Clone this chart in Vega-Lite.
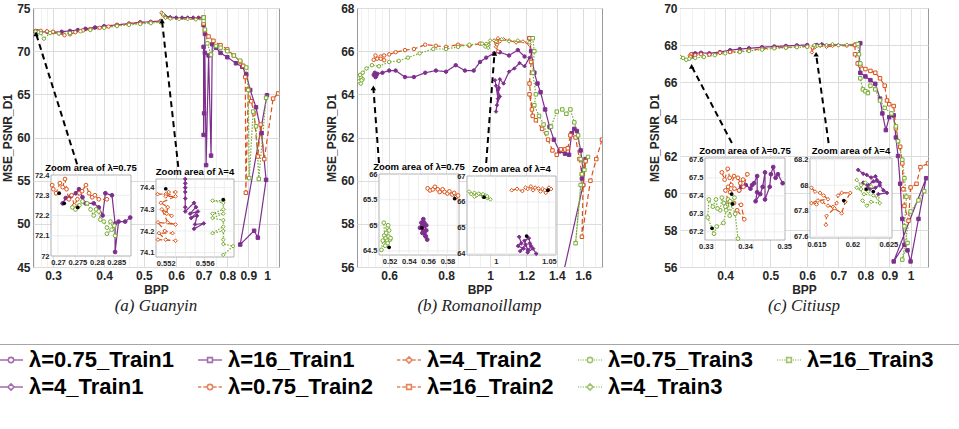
{
"padding": {"left": -6, "top": 1, "right": 5, "bottom": 5},
"spacing": 78,
"bounds": "flush",
"datasets": {
"am": [
{"s":"0.75_T1","x":0.55,"y":73.5},{"s":"0.75_T1","x":0.52,"y":73.4},{"s":"0.75_T1","x":0.49,"y":73.35},{"s":"0.75_T1","x":0.46,"y":73.2},{"s":"0.75_T1","x":0.43,"y":73.05},{"s":"0.75_T1","x":0.4,"y":72.9},{"s":"0.75_T1","x":0.38,"y":72.75},{"s":"0.75_T1","x":0.36,"y":72.6},{"s":"0.75_T1","x":0.345,"y":72.45},{"s":"0.75_T1","x":0.33,"y":72.35},{"s":"0.75_T1","x":0.315,"y":72.25},{"s":"0.75_T1","x":0.3,"y":72.2},{"s":"0.75_T1","x":0.29,"y":72.25},{"s":"0.75_T1","x":0.28,"y":72.2},{"s":"0.75_T1","x":0.275,"y":72.3},{"s":"0.75_T1","x":0.271,"y":72.28},
{"s":"0.75_T2","x":0.55,"y":73.45},{"s":"0.75_T2","x":0.52,"y":73.35},{"s":"0.75_T2","x":0.49,"y":73.25},{"s":"0.75_T2","x":0.46,"y":73.15},{"s":"0.75_T2","x":0.43,"y":73.0},{"s":"0.75_T2","x":0.41,"y":72.85},{"s":"0.75_T2","x":0.39,"y":72.7},{"s":"0.75_T2","x":0.37,"y":72.55},{"s":"0.75_T2","x":0.355,"y":72.4},{"s":"0.75_T2","x":0.34,"y":72.2},{"s":"0.75_T2","x":0.33,"y":71.95},{"s":"0.75_T2","x":0.32,"y":71.85},{"s":"0.75_T2","x":0.31,"y":72.05},{"s":"0.75_T2","x":0.3,"y":72.25},{"s":"0.75_T2","x":0.29,"y":72.3},{"s":"0.75_T2","x":0.28,"y":72.35},{"s":"0.75_T2","x":0.272,"y":72.35},
{"s":"0.75_T3","x":0.55,"y":73.35},{"s":"0.75_T3","x":0.52,"y":73.25},{"s":"0.75_T3","x":0.49,"y":73.15},{"s":"0.75_T3","x":0.46,"y":73.05},{"s":"0.75_T3","x":0.43,"y":72.9},{"s":"0.75_T3","x":0.4,"y":72.7},{"s":"0.75_T3","x":0.37,"y":72.45},{"s":"0.75_T3","x":0.35,"y":72.3},{"s":"0.75_T3","x":0.33,"y":72.1},{"s":"0.75_T3","x":0.31,"y":72.05},{"s":"0.75_T3","x":0.295,"y":72.1},{"s":"0.75_T3","x":0.285,"y":71.45},{"s":"0.75_T3","x":0.28,"y":72.1},{"s":"0.75_T3","x":0.276,"y":72.2},{"s":"0.75_T3","x":0.272,"y":72.25},
{"s":"4_T1","x":0.7,"y":73.95},{"s":"4_T1","x":0.68,"y":73.9},{"s":"4_T1","x":0.66,"y":73.9},{"s":"4_T1","x":0.64,"y":73.9},{"s":"4_T1","x":0.62,"y":73.9},{"s":"4_T1","x":0.6,"y":73.9},{"s":"4_T1","x":0.58,"y":73.95},{"s":"4_T1","x":0.565,"y":74.05},{"s":"4_T1","x":0.557,"y":74.3},{"s":"4_T1","x":0.555,"y":74.4},
{"s":"4_T2","x":0.7,"y":73.75},{"s":"4_T2","x":0.67,"y":73.75},{"s":"4_T2","x":0.64,"y":73.75},{"s":"4_T2","x":0.61,"y":73.75},{"s":"4_T2","x":0.58,"y":73.8},{"s":"4_T2","x":0.565,"y":73.9},{"s":"4_T2","x":0.556,"y":74.2},{"s":"4_T2","x":0.552,"y":74.45},
{"s":"4_T3","x":0.7,"y":73.65},{"s":"4_T3","x":0.67,"y":73.65},{"s":"4_T3","x":0.64,"y":73.7},{"s":"4_T3","x":0.61,"y":73.7},{"s":"4_T3","x":0.58,"y":73.75},{"s":"4_T3","x":0.565,"y":73.85},{"s":"4_T3","x":0.558,"y":74.15},{"s":"4_T3","x":0.558,"y":74.3},
{"s":"16_T1","x":1.0,"y":64.9},{"s":"16_T1","x":0.86,"y":47.6},{"s":"16_T1","x":0.93,"y":49.2},{"s":"16_T1","x":0.95,"y":48.4},{"s":"16_T1","x":0.995,"y":55.1},{"s":"16_T1","x":0.97,"y":60.5},{"s":"16_T1","x":0.94,"y":63.5},{"s":"16_T1","x":0.91,"y":65.5},{"s":"16_T1","x":0.89,"y":67.3},{"s":"16_T1","x":0.87,"y":68.2},{"s":"16_T1","x":0.84,"y":68.6},{"s":"16_T1","x":0.8,"y":69.3},{"s":"16_T1","x":0.77,"y":69.8},{"s":"16_T1","x":0.75,"y":70.4},{"s":"16_T1","x":0.735,"y":70.8},{"s":"16_T1","x":0.73,"y":57.9},{"s":"16_T1","x":0.72,"y":69.5},{"s":"16_T1","x":0.71,"y":56.8},{"s":"16_T1","x":0.705,"y":69.8},{"s":"16_T1","x":0.7,"y":60.3},{"s":"16_T1","x":0.7,"y":70.5},{"s":"16_T1","x":0.702,"y":62.8},{"s":"16_T1","x":0.705,"y":72.0},{"s":"16_T1","x":0.7,"y":73.0},{"s":"16_T1","x":0.7,"y":73.9},
{"s":"16_T2","x":1.065,"y":65.1},{"s":"16_T2","x":1.035,"y":64.5},{"s":"16_T2","x":0.985,"y":57.5},{"s":"16_T2","x":0.965,"y":61.5},{"s":"16_T2","x":0.95,"y":57.8},{"s":"16_T2","x":0.93,"y":62.8},{"s":"16_T2","x":0.915,"y":64.2},{"s":"16_T2","x":0.9,"y":65.6},{"s":"16_T2","x":0.888,"y":53.6},{"s":"16_T2","x":0.885,"y":67.0},{"s":"16_T2","x":0.875,"y":68.3},{"s":"16_T2","x":0.86,"y":68.8},{"s":"16_T2","x":0.83,"y":69.5},{"s":"16_T2","x":0.8,"y":70.2},{"s":"16_T2","x":0.77,"y":70.7},{"s":"16_T2","x":0.74,"y":71.2},{"s":"16_T2","x":0.72,"y":71.7},{"s":"16_T2","x":0.705,"y":72.4},{"s":"16_T2","x":0.7,"y":73.2},{"s":"16_T2","x":0.7,"y":73.9},
{"s":"16_T3","x":0.995,"y":64.6},{"s":"16_T3","x":0.955,"y":55.2},{"s":"16_T3","x":0.94,"y":61.3},{"s":"16_T3","x":0.925,"y":63.0},{"s":"16_T3","x":0.905,"y":55.3},{"s":"16_T3","x":0.9,"y":65.5},{"s":"16_T3","x":0.89,"y":68.1},{"s":"16_T3","x":0.86,"y":68.9},{"s":"16_T3","x":0.83,"y":69.5},{"s":"16_T3","x":0.8,"y":70.0},{"s":"16_T3","x":0.77,"y":70.4},{"s":"16_T3","x":0.75,"y":70.6},{"s":"16_T3","x":0.73,"y":69.6},{"s":"16_T3","x":0.715,"y":70.9},{"s":"16_T3","x":0.705,"y":72.5},{"s":"16_T3","x":0.7,"y":73.5},{"s":"16_T3","x":0.7,"y":73.9}
],
"ai1": [
{"s":"0.75_T1","x":0.2712,"y":72.26},{"s":"0.75_T1","x":0.272,"y":72.286},{"s":"0.75_T1","x":0.2733,"y":72.295},{"s":"0.75_T1","x":0.2746,"y":72.31},{"s":"0.75_T1","x":0.2754,"y":72.33},{"s":"0.75_T1","x":0.2763,"y":72.29},{"s":"0.75_T1","x":0.2771,"y":72.26},{"s":"0.75_T1","x":0.2792,"y":72.26},{"s":"0.75_T1","x":0.2805,"y":72.24},{"s":"0.75_T1","x":0.2815,"y":72.2},{"s":"0.75_T1","x":0.2822,"y":72.31},{"s":"0.75_T1","x":0.2839,"y":72.3},{"s":"0.75_T1","x":0.2847,"y":72.16},{"s":"0.75_T1","x":0.2847,"y":72.02},{"s":"0.75_T1","x":0.2856,"y":72.17},{"s":"0.75_T1","x":0.2873,"y":72.17},{"s":"0.75_T1","x":0.2886,"y":72.19},
{"s":"0.75_T2","x":0.2685,"y":72.35},{"s":"0.75_T2","x":0.2688,"y":72.33},{"s":"0.75_T2","x":0.2695,"y":72.31},{"s":"0.75_T2","x":0.2705,"y":72.36},{"s":"0.75_T2","x":0.2712,"y":72.34},{"s":"0.75_T2","x":0.2718,"y":72.38},{"s":"0.75_T2","x":0.2722,"y":72.33},{"s":"0.75_T2","x":0.2728,"y":72.28},{"s":"0.75_T2","x":0.2735,"y":72.3},{"s":"0.75_T2","x":0.2742,"y":72.25},{"s":"0.75_T2","x":0.275,"y":72.28},{"s":"0.75_T2","x":0.2755,"y":72.31},{"s":"0.75_T2","x":0.2762,"y":72.32},{"s":"0.75_T2","x":0.2772,"y":72.35},{"s":"0.75_T2","x":0.278,"y":72.31},{"s":"0.75_T2","x":0.2788,"y":72.29},{"s":"0.75_T2","x":0.2795,"y":72.3},{"s":"0.75_T2","x":0.2805,"y":72.28},{"s":"0.75_T2","x":0.2826,"y":72.28},
{"s":"0.75_T3","x":0.2737,"y":72.24},{"s":"0.75_T3","x":0.2745,"y":72.23},{"s":"0.75_T3","x":0.2755,"y":72.25},{"s":"0.75_T3","x":0.2763,"y":72.27},{"s":"0.75_T3","x":0.2775,"y":72.26},{"s":"0.75_T3","x":0.2784,"y":72.23},{"s":"0.75_T3","x":0.2792,"y":72.2},{"s":"0.75_T3","x":0.2798,"y":72.23},{"s":"0.75_T3","x":0.2805,"y":72.22},{"s":"0.75_T3","x":0.2809,"y":72.18},{"s":"0.75_T3","x":0.2818,"y":72.17},{"s":"0.75_T3","x":0.2826,"y":72.14},{"s":"0.75_T3","x":0.2835,"y":72.17},{"s":"0.75_T3","x":0.2847,"y":72.1},{"s":"0.75_T3","x":0.2845,"y":72.15},{"s":"0.75_T3","x":0.2838,"y":72.13},{"s":"0.75_T3","x":0.2826,"y":72.11},
{"s":"best","x":0.2703,"y":72.31},{"s":"best","x":0.2716,"y":72.26},{"s":"best","x":0.2751,"y":72.24}
],
"ai2": [
{"s":"4_T1","x":0.554,"y":74.44},{"s":"4_T1","x":0.554,"y":74.42},{"s":"4_T1","x":0.554,"y":74.4},{"s":"4_T1","x":0.554,"y":74.38},{"s":"4_T1","x":0.554,"y":74.35},{"s":"4_T1","x":0.554,"y":74.31},{"s":"4_T1","x":0.554,"y":74.29},{"s":"4_T1","x":0.5549,"y":74.33},{"s":"4_T1","x":0.5551,"y":74.31},{"s":"4_T1","x":0.5545,"y":74.28},{"s":"4_T1","x":0.5553,"y":74.29},{"s":"4_T1","x":0.5546,"y":74.26},{"s":"4_T1","x":0.5552,"y":74.27},{"s":"4_T1","x":0.555,"y":74.23},{"s":"4_T1","x":0.5559,"y":74.235},{"s":"4_T1","x":0.5549,"y":74.21},
{"s":"4_T2","x":0.55116,"y":74.37},{"s":"4_T2","x":0.552,"y":74.37},{"s":"4_T2","x":0.5523,"y":74.38},{"s":"4_T2","x":0.553,"y":74.38},{"s":"4_T2","x":0.552,"y":74.36},{"s":"4_T2","x":0.553,"y":74.36},{"s":"4_T2","x":0.5515,"y":74.33},{"s":"4_T2","x":0.5522,"y":74.31},{"s":"4_T2","x":0.5521,"y":74.28},{"s":"4_T2","x":0.5526,"y":74.27},{"s":"4_T2","x":0.5516,"y":74.3},{"s":"4_T2","x":0.5522,"y":74.24},{"s":"4_T2","x":0.553,"y":74.23},{"s":"4_T2","x":0.5512,"y":74.24},{"s":"4_T2","x":0.5519,"y":74.2},{"s":"4_T2","x":0.5527,"y":74.19},{"s":"4_T2","x":0.5513,"y":74.19},{"s":"4_T2","x":0.552,"y":74.16},{"s":"4_T2","x":0.553,"y":74.155},{"s":"4_T2","x":0.5512,"y":74.16},
{"s":"4_T3","x":0.5579,"y":74.34},{"s":"4_T3","x":0.5568,"y":74.34},{"s":"4_T3","x":0.5579,"y":74.33},{"s":"4_T3","x":0.5579,"y":74.3},{"s":"4_T3","x":0.5568,"y":74.28},{"s":"4_T3","x":0.5579,"y":74.28},{"s":"4_T3","x":0.5568,"y":74.26},{"s":"4_T3","x":0.5579,"y":74.25},{"s":"4_T3","x":0.5579,"y":74.22},{"s":"4_T3","x":0.5568,"y":74.19},{"s":"4_T3","x":0.5579,"y":74.2},{"s":"4_T3","x":0.5579,"y":74.16},{"s":"4_T3","x":0.5579,"y":74.14},{"s":"4_T3","x":0.5589,"y":74.13},{"s":"4_T3","x":0.5579,"y":74.09},
{"s":"best","x":0.552,"y":74.395},{"s":"best","x":0.5579,"y":74.345}
],
"bm": [
{"s":"0.75_T1","x":1.19,"y":65.75},{"s":"0.75_T1","x":1.15,"y":66.05},{"s":"0.75_T1","x":1.1,"y":65.8},{"s":"0.75_T1","x":1.05,"y":65.95},{"s":"0.75_T1","x":1.02,"y":65.9},{"s":"0.75_T1","x":0.98,"y":65.7},{"s":"0.75_T1","x":0.95,"y":65.5},{"s":"0.75_T1","x":0.92,"y":65.1},{"s":"0.75_T1","x":0.88,"y":65.1},{"s":"0.75_T1","x":0.84,"y":65.35},{"s":"0.75_T1","x":0.8,"y":65.05},{"s":"0.75_T1","x":0.76,"y":65.1},{"s":"0.75_T1","x":0.72,"y":65.0},{"s":"0.75_T1","x":0.68,"y":64.8},{"s":"0.75_T1","x":0.65,"y":64.8},{"s":"0.75_T1","x":0.62,"y":65.1},{"s":"0.75_T1","x":0.6,"y":65.1},{"s":"0.75_T1","x":0.58,"y":65.0},{"s":"0.75_T1","x":0.565,"y":64.95},{"s":"0.75_T1","x":0.56,"y":64.8},{"s":"0.75_T1","x":0.558,"y":65.0},{"s":"0.75_T1","x":0.562,"y":64.85},{"s":"0.75_T1","x":0.555,"y":64.9},
{"s":"0.75_T2","x":0.99,"y":66.3},{"s":"0.75_T2","x":0.95,"y":66.35},{"s":"0.75_T2","x":0.9,"y":66.25},{"s":"0.75_T2","x":0.85,"y":66.3},{"s":"0.75_T2","x":0.8,"y":66.2},{"s":"0.75_T2","x":0.76,"y":66.25},{"s":"0.75_T2","x":0.72,"y":66.3},{"s":"0.75_T2","x":0.68,"y":66.1},{"s":"0.75_T2","x":0.65,"y":66.05},{"s":"0.75_T2","x":0.62,"y":65.95},{"s":"0.75_T2","x":0.6,"y":65.85},{"s":"0.75_T2","x":0.585,"y":65.8},{"s":"0.75_T2","x":0.575,"y":65.75},{"s":"0.75_T2","x":0.565,"y":65.65},{"s":"0.75_T2","x":0.56,"y":65.8},{"s":"0.75_T2","x":0.555,"y":65.6},{"s":"0.75_T2","x":0.575,"y":65.65},{"s":"0.75_T2","x":0.585,"y":65.58},
{"s":"0.75_T3","x":0.96,"y":66.35},{"s":"0.75_T3","x":0.9,"y":66.3},{"s":"0.75_T3","x":0.85,"y":66.2},{"s":"0.75_T3","x":0.8,"y":66.1},{"s":"0.75_T3","x":0.75,"y":66.1},{"s":"0.75_T3","x":0.7,"y":65.9},{"s":"0.75_T3","x":0.66,"y":65.7},{"s":"0.75_T3","x":0.63,"y":65.55},{"s":"0.75_T3","x":0.6,"y":65.5},{"s":"0.75_T3","x":0.57,"y":65.3},{"s":"0.75_T3","x":0.55,"y":65.35},{"s":"0.75_T3","x":0.535,"y":65.2},{"s":"0.75_T3","x":0.525,"y":65.0},{"s":"0.75_T3","x":0.52,"y":64.8},{"s":"0.75_T3","x":0.515,"y":64.6},{"s":"0.75_T3","x":0.52,"y":64.5},{"s":"0.75_T3","x":0.525,"y":64.7},{"s":"0.75_T3","x":0.518,"y":64.9},{"s":"0.75_T3","x":0.522,"y":64.65},
{"s":"4_T1","x":1.22,"y":65.7},{"s":"4_T1","x":1.19,"y":65.3},{"s":"4_T1","x":1.16,"y":65.45},{"s":"4_T1","x":1.13,"y":65.2},{"s":"4_T1","x":1.1,"y":65.05},{"s":"4_T1","x":1.07,"y":64.5},{"s":"4_T1","x":1.05,"y":64.7},{"s":"4_T1","x":1.04,"y":64.2},{"s":"4_T1","x":1.05,"y":63.9},{"s":"4_T1","x":1.035,"y":63.5},{"s":"4_T1","x":1.045,"y":64.3},{"s":"4_T1","x":1.03,"y":63.2},{"s":"4_T1","x":1.04,"y":63.8},{"s":"4_T1","x":1.03,"y":64.4},{"s":"4_T1","x":1.025,"y":64.65},
{"s":"4_T2","x":1.22,"y":66.3},{"s":"4_T2","x":1.18,"y":66.45},{"s":"4_T2","x":1.14,"y":66.4},{"s":"4_T2","x":1.1,"y":66.5},{"s":"4_T2","x":1.07,"y":66.55},{"s":"4_T2","x":1.05,"y":66.5},{"s":"4_T2","x":1.04,"y":66.6},{"s":"4_T2","x":1.03,"y":66.45},{"s":"4_T2","x":1.02,"y":66.5},{"s":"4_T2","x":1.03,"y":66.2},{"s":"4_T2","x":1.04,"y":66.0},{"s":"4_T2","x":1.035,"y":66.3},{"s":"4_T2","x":1.05,"y":66.45},
{"s":"4_T3","x":1.22,"y":66.4},{"s":"4_T3","x":1.15,"y":66.5},{"s":"4_T3","x":1.1,"y":66.45},{"s":"4_T3","x":1.06,"y":66.55},{"s":"4_T3","x":1.03,"y":66.45},{"s":"4_T3","x":1.0,"y":66.5},{"s":"4_T3","x":0.99,"y":66.3},{"s":"4_T3","x":0.985,"y":66.25},{"s":"4_T3","x":0.98,"y":66.35},{"s":"4_T3","x":0.975,"y":66.2},{"s":"4_T3","x":0.99,"y":66.15},
{"s":"16_T1","x":1.22,"y":66.6},{"s":"16_T1","x":1.23,"y":66.0},{"s":"16_T1","x":1.25,"y":65.0},{"s":"16_T1","x":1.27,"y":64.5},{"s":"16_T1","x":1.29,"y":64.1},{"s":"16_T1","x":1.32,"y":63.3},{"s":"16_T1","x":1.35,"y":62.5},{"s":"16_T1","x":1.38,"y":61.9},{"s":"16_T1","x":1.42,"y":61.36},{"s":"16_T1","x":1.46,"y":61.25},{"s":"16_T1","x":1.49,"y":61.2},{"s":"16_T1","x":1.51,"y":62.2},{"s":"16_T1","x":1.53,"y":62.4},{"s":"16_T1","x":1.55,"y":62.3},{"s":"16_T1","x":1.58,"y":61.4},{"s":"16_T1","x":1.6,"y":60.5},{"s":"16_T1","x":1.59,"y":60.1},{"s":"16_T1","x":1.62,"y":61.0},{"s":"16_T1","x":1.6,"y":59.8},{"s":"16_T1","x":1.44,"y":55.5},
{"s":"16_T2","x":1.22,"y":66.6},{"s":"16_T2","x":1.23,"y":65.5},{"s":"16_T2","x":1.22,"y":64.5},{"s":"16_T2","x":1.235,"y":63.3},{"s":"16_T2","x":1.22,"y":64.0},{"s":"16_T2","x":1.24,"y":63.0},{"s":"16_T2","x":1.26,"y":62.8},{"s":"16_T2","x":1.3,"y":62.4},{"s":"16_T2","x":1.34,"y":61.9},{"s":"16_T2","x":1.37,"y":61.4},{"s":"16_T2","x":1.4,"y":61.2},{"s":"16_T2","x":1.43,"y":61.45},{"s":"16_T2","x":1.46,"y":61.45},{"s":"16_T2","x":1.48,"y":61.5},{"s":"16_T2","x":1.5,"y":62.1},{"s":"16_T2","x":1.54,"y":62.0},{"s":"16_T2","x":1.57,"y":61.0},{"s":"16_T2","x":1.59,"y":60.3},{"s":"16_T2","x":1.62,"y":60.9},{"s":"16_T2","x":1.6,"y":59.8},{"s":"16_T2","x":1.59,"y":57.4},{"s":"16_T2","x":1.66,"y":60.0},{"s":"16_T2","x":1.71,"y":61.0},{"s":"16_T2","x":1.76,"y":61.9},
{"s":"16_T3","x":1.24,"y":66.6},{"s":"16_T3","x":1.25,"y":66.0},{"s":"16_T3","x":1.24,"y":65.0},{"s":"16_T3","x":1.26,"y":64.0},{"s":"16_T3","x":1.25,"y":63.5},{"s":"16_T3","x":1.28,"y":63.0},{"s":"16_T3","x":1.31,"y":62.6},{"s":"16_T3","x":1.33,"y":62.2},{"s":"16_T3","x":1.36,"y":62.5},{"s":"16_T3","x":1.4,"y":63.2},{"s":"16_T3","x":1.44,"y":63.3},{"s":"16_T3","x":1.47,"y":63.1},{"s":"16_T3","x":1.5,"y":63.3},{"s":"16_T3","x":1.53,"y":62.7},{"s":"16_T3","x":1.56,"y":62.1},{"s":"16_T3","x":1.58,"y":61.0},{"s":"16_T3","x":1.61,"y":60.5},{"s":"16_T3","x":1.58,"y":59.8},{"s":"16_T3","x":1.54,"y":57.1},{"s":"16_T3","x":1.59,"y":60.3},{"s":"16_T3","x":1.64,"y":61.1}
],
"bi1": [
{"s":"0.75_T1","x":0.5515,"y":64.95},{"s":"0.75_T1","x":0.553,"y":65.05},{"s":"0.75_T1","x":0.555,"y":65.12},{"s":"0.75_T1","x":0.5545,"y":64.98},{"s":"0.75_T1","x":0.5565,"y":65.0},{"s":"0.75_T1","x":0.558,"y":64.9},{"s":"0.75_T1","x":0.556,"y":64.85},{"s":"0.75_T1","x":0.5575,"y":64.78},{"s":"0.75_T1","x":0.559,"y":64.72},{"s":"0.75_T1","x":0.557,"y":64.8},{"s":"0.75_T1","x":0.555,"y":64.9},{"s":"0.75_T1","x":0.554,"y":64.85},{"s":"0.75_T1","x":0.556,"y":65.05},{"s":"0.75_T1","x":0.558,"y":65.0},
{"s":"0.75_T2","x":0.5595,"y":65.72},{"s":"0.75_T2","x":0.562,"y":65.68},{"s":"0.75_T2","x":0.565,"y":65.7},{"s":"0.75_T2","x":0.567,"y":65.75},{"s":"0.75_T2","x":0.57,"y":65.7},{"s":"0.75_T2","x":0.572,"y":65.65},{"s":"0.75_T2","x":0.575,"y":65.7},{"s":"0.75_T2","x":0.577,"y":65.65},{"s":"0.75_T2","x":0.58,"y":65.62},{"s":"0.75_T2","x":0.582,"y":65.66},{"s":"0.75_T2","x":0.585,"y":65.6},{"s":"0.75_T2","x":0.587,"y":65.63},{"s":"0.75_T2","x":0.589,"y":65.55},{"s":"0.75_T2","x":0.591,"y":65.58},
{"s":"0.75_T3","x":0.5115,"y":64.52},{"s":"0.75_T3","x":0.513,"y":64.7},{"s":"0.75_T3","x":0.5145,"y":64.8},{"s":"0.75_T3","x":0.516,"y":64.75},{"s":"0.75_T3","x":0.5175,"y":64.7},{"s":"0.75_T3","x":0.519,"y":64.78},{"s":"0.75_T3","x":0.5205,"y":64.72},{"s":"0.75_T3","x":0.518,"y":64.65},{"s":"0.75_T3","x":0.5165,"y":64.85},{"s":"0.75_T3","x":0.518,"y":64.95},{"s":"0.75_T3","x":0.5195,"y":64.9},{"s":"0.75_T3","x":0.5185,"y":65.0},{"s":"0.75_T3","x":0.514,"y":65.05},{"s":"0.75_T3","x":0.5155,"y":64.6},{"s":"0.75_T3","x":0.521,"y":64.75},
{"s":"best","x":0.5195,"y":64.57},{"s":"best","x":0.5535,"y":64.95},{"s":"best","x":0.5875,"y":65.52}
],
"bi2": [
{"s":"4_T1","x":1.022,"y":64.65},{"s":"4_T1","x":1.024,"y":64.4},{"s":"4_T1","x":1.021,"y":64.3},{"s":"4_T1","x":1.026,"y":64.2},{"s":"4_T1","x":1.023,"y":64.1},{"s":"4_T1","x":1.028,"y":64.35},{"s":"4_T1","x":1.03,"y":64.15},{"s":"4_T1","x":1.027,"y":64.5},{"s":"4_T1","x":1.031,"y":64.6},{"s":"4_T1","x":1.033,"y":64.3},{"s":"4_T1","x":1.03,"y":64.05},{"s":"4_T1","x":1.035,"y":64.2},{"s":"4_T1","x":1.038,"y":64.0},{"s":"4_T1","x":1.032,"y":64.4},
{"s":"4_T2","x":1.015,"y":66.45},{"s":"4_T2","x":1.02,"y":66.5},{"s":"4_T2","x":1.025,"y":66.42},{"s":"4_T2","x":1.028,"y":66.55},{"s":"4_T2","x":1.03,"y":66.5},{"s":"4_T2","x":1.033,"y":66.6},{"s":"4_T2","x":1.035,"y":66.45},{"s":"4_T2","x":1.037,"y":66.55},{"s":"4_T2","x":1.04,"y":66.52},{"s":"4_T2","x":1.042,"y":66.4},{"s":"4_T2","x":1.044,"y":66.5},{"s":"4_T2","x":1.046,"y":66.45},{"s":"4_T2","x":1.05,"y":66.55},{"s":"4_T2","x":1.047,"y":66.35},{"s":"4_T2","x":1.052,"y":66.5},
{"s":"4_T3","x":0.975,"y":66.4},{"s":"4_T3","x":0.977,"y":66.3},{"s":"4_T3","x":0.98,"y":66.35},{"s":"4_T3","x":0.982,"y":66.25},{"s":"4_T3","x":0.985,"y":66.3},{"s":"4_T3","x":0.988,"y":66.2},{"s":"4_T3","x":0.99,"y":66.25},{"s":"4_T3","x":0.992,"y":66.15},{"s":"4_T3","x":0.995,"y":66.1},{"s":"4_T3","x":0.988,"y":66.3},{"s":"4_T3","x":0.98,"y":66.2},{"s":"4_T3","x":0.984,"y":66.32},{"s":"4_T3","x":0.992,"y":66.22},
{"s":"best","x":0.989,"y":66.18},{"s":"best","x":1.049,"y":66.45},{"s":"best","x":1.029,"y":64.68}
],
"cm": [
{"s":"0.75_T1","x":0.6,"y":68.0},{"s":"0.75_T1","x":0.57,"y":67.98},{"s":"0.75_T1","x":0.54,"y":67.95},{"s":"0.75_T1","x":0.51,"y":67.92},{"s":"0.75_T1","x":0.48,"y":67.88},{"s":"0.75_T1","x":0.45,"y":67.82},{"s":"0.75_T1","x":0.43,"y":67.78},{"s":"0.75_T1","x":0.41,"y":67.72},{"s":"0.75_T1","x":0.39,"y":67.62},{"s":"0.75_T1","x":0.37,"y":67.55},{"s":"0.75_T1","x":0.355,"y":67.58},{"s":"0.75_T1","x":0.345,"y":67.55},{"s":"0.75_T1","x":0.34,"y":67.5},{"s":"0.75_T1","x":0.345,"y":67.45},{"s":"0.75_T1","x":0.338,"y":67.42},{"s":"0.75_T1","x":0.342,"y":67.38},
{"s":"0.75_T2","x":0.6,"y":67.92},{"s":"0.75_T2","x":0.57,"y":67.9},{"s":"0.75_T2","x":0.54,"y":67.87},{"s":"0.75_T2","x":0.51,"y":67.85},{"s":"0.75_T2","x":0.48,"y":67.8},{"s":"0.75_T2","x":0.45,"y":67.72},{"s":"0.75_T2","x":0.43,"y":67.65},{"s":"0.75_T2","x":0.41,"y":67.62},{"s":"0.75_T2","x":0.39,"y":67.58},{"s":"0.75_T2","x":0.37,"y":67.48},{"s":"0.75_T2","x":0.355,"y":67.5},{"s":"0.75_T2","x":0.345,"y":67.45},{"s":"0.75_T2","x":0.338,"y":67.5},{"s":"0.75_T2","x":0.336,"y":67.42},{"s":"0.75_T2","x":0.337,"y":67.35},
{"s":"0.75_T3","x":0.6,"y":67.9},{"s":"0.75_T3","x":0.57,"y":67.88},{"s":"0.75_T3","x":0.54,"y":67.85},{"s":"0.75_T3","x":0.51,"y":67.82},{"s":"0.75_T3","x":0.48,"y":67.75},{"s":"0.75_T3","x":0.45,"y":67.68},{"s":"0.75_T3","x":0.43,"y":67.62},{"s":"0.75_T3","x":0.4,"y":67.55},{"s":"0.75_T3","x":0.38,"y":67.45},{"s":"0.75_T3","x":0.36,"y":67.35},{"s":"0.75_T3","x":0.345,"y":67.3},{"s":"0.75_T3","x":0.335,"y":67.25},{"s":"0.75_T3","x":0.33,"y":67.2},{"s":"0.75_T3","x":0.325,"y":67.3},{"s":"0.75_T3","x":0.32,"y":67.35},
{"s":"4_T1","x":0.76,"y":68.02},{"s":"4_T1","x":0.73,"y":68.0},{"s":"4_T1","x":0.7,"y":68.0},{"s":"4_T1","x":0.68,"y":68.02},{"s":"4_T1","x":0.66,"y":68.0},{"s":"4_T1","x":0.645,"y":68.05},{"s":"4_T1","x":0.63,"y":68.02},{"s":"4_T1","x":0.624,"y":68.0},{"s":"4_T1","x":0.622,"y":67.95},
{"s":"4_T2","x":0.76,"y":67.98},{"s":"4_T2","x":0.73,"y":67.95},{"s":"4_T2","x":0.7,"y":67.98},{"s":"4_T2","x":0.68,"y":67.95},{"s":"4_T2","x":0.66,"y":67.9},{"s":"4_T2","x":0.64,"y":67.95},{"s":"4_T2","x":0.625,"y":67.9},{"s":"4_T2","x":0.62,"y":67.95},{"s":"4_T2","x":0.617,"y":67.8},{"s":"4_T2","x":0.614,"y":67.6},{"s":"4_T2","x":0.616,"y":67.85},
{"s":"4_T3","x":0.76,"y":68.05},{"s":"4_T3","x":0.73,"y":68.02},{"s":"4_T3","x":0.7,"y":67.98},{"s":"4_T3","x":0.68,"y":68.05},{"s":"4_T3","x":0.66,"y":68.0},{"s":"4_T3","x":0.64,"y":67.98},{"s":"4_T3","x":0.63,"y":67.95},{"s":"4_T3","x":0.623,"y":67.95},{"s":"4_T3","x":0.621,"y":68.0},
{"s":"16_T1","x":0.78,"y":68.1},{"s":"16_T1","x":0.775,"y":67.0},{"s":"16_T1","x":0.78,"y":66.5},{"s":"16_T1","x":0.8,"y":66.3},{"s":"16_T1","x":0.82,"y":66.1},{"s":"16_T1","x":0.84,"y":65.9},{"s":"16_T1","x":0.86,"y":65.1},{"s":"16_T1","x":0.87,"y":64.3},{"s":"16_T1","x":0.885,"y":63.4},{"s":"16_T1","x":0.9,"y":64.1},{"s":"16_T1","x":0.92,"y":64.2},{"s":"16_T1","x":0.93,"y":63.0},{"s":"16_T1","x":0.94,"y":62.0},{"s":"16_T1","x":0.95,"y":60.5},{"s":"16_T1","x":0.96,"y":58.6},{"s":"16_T1","x":0.97,"y":57.2},{"s":"16_T1","x":0.92,"y":56.3},{"s":"16_T1","x":1.08,"y":60.8},{"s":"16_T1","x":1.04,"y":58.6},{"s":"16_T1","x":1.0,"y":56.3},{"s":"16_T1","x":0.985,"y":56.9},
{"s":"16_T2","x":0.76,"y":68.0},{"s":"16_T2","x":0.76,"y":67.5},{"s":"16_T2","x":0.77,"y":67.0},{"s":"16_T2","x":0.78,"y":66.9},{"s":"16_T2","x":0.8,"y":66.7},{"s":"16_T2","x":0.82,"y":66.6},{"s":"16_T2","x":0.84,"y":66.5},{"s":"16_T2","x":0.86,"y":66.2},{"s":"16_T2","x":0.88,"y":65.8},{"s":"16_T2","x":0.89,"y":65.0},{"s":"16_T2","x":0.9,"y":64.8},{"s":"16_T2","x":0.92,"y":64.7},{"s":"16_T2","x":0.93,"y":63.5},{"s":"16_T2","x":0.95,"y":62.5},{"s":"16_T2","x":0.96,"y":61.6},{"s":"16_T2","x":0.965,"y":60.2},{"s":"16_T2","x":0.97,"y":59.3},{"s":"16_T2","x":0.99,"y":58.5},{"s":"16_T2","x":1.0,"y":60.3},{"s":"16_T2","x":1.03,"y":60.5},{"s":"16_T2","x":1.05,"y":61.4},{"s":"16_T2","x":1.09,"y":61.6},
{"s":"16_T3","x":0.77,"y":68.05},{"s":"16_T3","x":0.775,"y":67.5},{"s":"16_T3","x":0.78,"y":67.0},{"s":"16_T3","x":0.78,"y":66.2},{"s":"16_T3","x":0.79,"y":65.6},{"s":"16_T3","x":0.8,"y":65.5},{"s":"16_T3","x":0.81,"y":65.4},{"s":"16_T3","x":0.82,"y":65.8},{"s":"16_T3","x":0.84,"y":65.6},{"s":"16_T3","x":0.86,"y":65.0},{"s":"16_T3","x":0.88,"y":64.6},{"s":"16_T3","x":0.91,"y":64.3},{"s":"16_T3","x":0.93,"y":63.6},{"s":"16_T3","x":0.94,"y":62.8},{"s":"16_T3","x":0.96,"y":61.8},{"s":"16_T3","x":0.97,"y":60.8},{"s":"16_T3","x":0.98,"y":59.8},{"s":"16_T3","x":0.97,"y":58.2},{"s":"16_T3","x":0.985,"y":57.3},{"s":"16_T3","x":0.96,"y":56.4},{"s":"16_T3","x":1.0,"y":59.0},{"s":"16_T3","x":1.04,"y":59.6},{"s":"16_T3","x":1.07,"y":60.1}
],
"ci1": [
{"s":"0.75_T1","x":0.3385,"y":67.43},{"s":"0.75_T1","x":0.339,"y":67.45},{"s":"0.75_T1","x":0.3402,"y":67.46},{"s":"0.75_T1","x":0.3414,"y":67.44},{"s":"0.75_T1","x":0.3418,"y":67.46},{"s":"0.75_T1","x":0.3423,"y":67.47},{"s":"0.75_T1","x":0.3431,"y":67.51},{"s":"0.75_T1","x":0.3431,"y":67.42},{"s":"0.75_T1","x":0.3427,"y":67.37},{"s":"0.75_T1","x":0.3439,"y":67.41},{"s":"0.75_T1","x":0.3445,"y":67.45},{"s":"0.75_T1","x":0.3451,"y":67.53},{"s":"0.75_T1","x":0.3451,"y":67.38},{"s":"0.75_T1","x":0.3463,"y":67.45},{"s":"0.75_T1","x":0.3466,"y":67.52},{"s":"0.75_T1","x":0.3472,"y":67.56},{"s":"0.75_T1","x":0.3478,"y":67.5},{"s":"0.75_T1","x":0.3484,"y":67.52},{"s":"0.75_T1","x":0.3496,"y":67.47},
{"s":"0.75_T2","x":0.3341,"y":67.53},{"s":"0.75_T2","x":0.3348,"y":67.49},{"s":"0.75_T2","x":0.3356,"y":67.55},{"s":"0.75_T2","x":0.3361,"y":67.5},{"s":"0.75_T2","x":0.3365,"y":67.46},{"s":"0.75_T2","x":0.3372,"y":67.51},{"s":"0.75_T2","x":0.3382,"y":67.5},{"s":"0.75_T2","x":0.3388,"y":67.47},{"s":"0.75_T2","x":0.3395,"y":67.49},{"s":"0.75_T2","x":0.3406,"y":67.52},{"s":"0.75_T2","x":0.3396,"y":67.45},{"s":"0.75_T2","x":0.3385,"y":67.43},{"s":"0.75_T2","x":0.3373,"y":67.44},{"s":"0.75_T2","x":0.3362,"y":67.42},{"s":"0.75_T2","x":0.3357,"y":67.45},{"s":"0.75_T2","x":0.335,"y":67.43},{"s":"0.75_T2","x":0.3357,"y":67.37},{"s":"0.75_T2","x":0.3372,"y":67.36},{"s":"0.75_T2","x":0.339,"y":67.35},{"s":"0.75_T2","x":0.3398,"y":67.27},{"s":"0.75_T2","x":0.338,"y":67.32},
{"s":"0.75_T3","x":0.3373,"y":67.39},{"s":"0.75_T3","x":0.3368,"y":67.36},{"s":"0.75_T3","x":0.3361,"y":67.29},{"s":"0.75_T3","x":0.3357,"y":67.38},{"s":"0.75_T3","x":0.335,"y":67.34},{"s":"0.75_T3","x":0.3346,"y":67.36},{"s":"0.75_T3","x":0.3341,"y":67.39},{"s":"0.75_T3","x":0.3337,"y":67.32},{"s":"0.75_T3","x":0.333,"y":67.33},{"s":"0.75_T3","x":0.3326,"y":67.38},{"s":"0.75_T3","x":0.3318,"y":67.34},{"s":"0.75_T3","x":0.3308,"y":67.38},{"s":"0.75_T3","x":0.3305,"y":67.28},{"s":"0.75_T3","x":0.3321,"y":67.19},{"s":"0.75_T3","x":0.3328,"y":67.23},{"s":"0.75_T3","x":0.3345,"y":67.25},{"s":"0.75_T3","x":0.3352,"y":67.32},{"s":"0.75_T3","x":0.3362,"y":67.37},{"s":"0.75_T3","x":0.3375,"y":67.3},{"s":"0.75_T3","x":0.3382,"y":67.163},
{"s":"best","x":0.3366,"y":67.41},{"s":"best","x":0.3368,"y":67.355},{"s":"best","x":0.3316,"y":67.22}
],
"ci2": [
{"s":"4_T1","x":0.6208,"y":68.12},{"s":"4_T1","x":0.6215,"y":68.09},{"s":"4_T1","x":0.622,"y":68.08},{"s":"4_T1","x":0.6226,"y":68.06},{"s":"4_T1","x":0.6232,"y":68.07},{"s":"4_T1","x":0.6234,"y":68.04},{"s":"4_T1","x":0.6238,"y":68.02},{"s":"4_T1","x":0.6229,"y":68.03},{"s":"4_T1","x":0.6222,"y":68.0},{"s":"4_T1","x":0.6215,"y":68.02},{"s":"4_T1","x":0.6224,"y":67.97},{"s":"4_T1","x":0.6232,"y":67.98},{"s":"4_T1","x":0.6238,"y":68.0},{"s":"4_T1","x":0.6243,"y":67.96},{"s":"4_T1","x":0.6248,"y":67.94},{"s":"4_T1","x":0.6236,"y":67.93},
{"s":"4_T2","x":0.6143,"y":67.98},{"s":"4_T2","x":0.6148,"y":67.95},{"s":"4_T2","x":0.6155,"y":67.94},{"s":"4_T2","x":0.616,"y":67.92},{"s":"4_T2","x":0.6166,"y":67.89},{"s":"4_T2","x":0.6152,"y":67.88},{"s":"4_T2","x":0.6143,"y":67.86},{"s":"4_T2","x":0.615,"y":67.85},{"s":"4_T2","x":0.6158,"y":67.87},{"s":"4_T2","x":0.6166,"y":67.84},{"s":"4_T2","x":0.6173,"y":67.83},{"s":"4_T2","x":0.6178,"y":67.86},{"s":"4_T2","x":0.618,"y":67.92},{"s":"4_T2","x":0.6185,"y":67.94},{"s":"4_T2","x":0.6197,"y":67.94},{"s":"4_T2","x":0.619,"y":67.87},{"s":"4_T2","x":0.6185,"y":67.78},{"s":"4_T2","x":0.6175,"y":67.82},{"s":"4_T2","x":0.6164,"y":67.76},{"s":"4_T2","x":0.6163,"y":67.69},
{"s":"4_T3","x":0.6206,"y":68.04},{"s":"4_T3","x":0.6212,"y":68.0},{"s":"4_T3","x":0.6218,"y":68.02},{"s":"4_T3","x":0.6226,"y":67.99},{"s":"4_T3","x":0.6222,"y":67.95},{"s":"4_T3","x":0.6212,"y":67.97},{"s":"4_T3","x":0.6206,"y":67.98},{"s":"4_T3","x":0.6216,"y":67.93},{"s":"4_T3","x":0.6229,"y":67.92},{"s":"4_T3","x":0.6235,"y":67.9},{"s":"4_T3","x":0.6238,"y":67.86},{"s":"4_T3","x":0.6226,"y":67.87},{"s":"4_T3","x":0.622,"y":67.84},{"s":"4_T3","x":0.6214,"y":67.88},
{"s":"best","x":0.6188,"y":67.88},{"s":"best","x":0.6219,"y":67.97},{"s":"best","x":0.6229,"y":67.95}
],
"aa": [{"x":0.3435,"y":56.9,"x2":0.2727,"y2":72.0},{"x":0.607,"y":56.6,"x2":0.554,"y2":73.5}],
"ba": [{"x":0.57,"y":60.82,"x2":0.554,"y2":64.3},{"x":0.98,"y":60.82,"x2":1.022,"y2":65.9}],
"ca": [{"x":0.4135,"y":62.7,"x2":0.339,"y2":66.85},{"x":0.667,"y":62.7,"x2":0.627,"y2":67.5}]
},
"hconcat": [
{
"width": 246, "height": 259,
"title": {"text": "(a) Guanyin", "orient": "bottom", "anchor": "middle", "font": "Liberation Serif", "fontSize": 17, "fontWeight": "normal", "fontStyle": "italic", "color": "#222", "offset": 3},
"layer": [
{"layer": [
{"data": {"name": "am"}, "mark": {"type": "line", "clip": true, "strokeWidth": 1.2},
 "encoding": {
  "x": {"field": "x", "type": "quantitative", "scale": {"type": "log", "domain": [0.268, 1.07], "nice": false},
   "axis": {"title": "BPP", "tickCount": 100, "values": [0.27,0.28,0.29,0.3,0.32,0.34,0.36,0.38,0.4,0.42,0.44,0.46,0.48,0.5,0.55,0.6,0.65,0.7,0.75,0.8,0.85,0.9,0.95,1,1.05], "labelExpr": "abs(datum.value*10-round(datum.value*10))<1e-6 ? format(datum.value,'~g') : ''", "gridColor": {"condition": {"test": "abs(datum.value*10-round(datum.value*10))<1e-6", "value": "#dcdcdc"}, "value": "#f1f1f1"}, "labelOverlap": false, "labelFlush": false, "labelPadding": 3, "titlePadding": 3}},
  "y": {"field": "y", "type": "quantitative", "scale": {"domain": [45, 75], "nice": false, "zero": false},
   "axis": {"title": "MSE_PSNR_D1", "tickCount": 100, "format": "~g", "values": [45,50,55,60,65,70,75], "gridColor": "#dcdcdc", "labelPadding": 3, "titlePadding": 2, "labelOverlap": false}},
  "color": {"field": "s", "type": "nominal",
   "scale": {"domain": ["0.75_T1","16_T1","4_T2","0.75_T3","16_T3","4_T1","0.75_T2","16_T2","4_T3"], "range": ["#7E2F8E","#7E2F8E","#D95319","#77AC30","#77AC30","#7E2F8E","#D95319","#D95319","#77AC30"]},
   "legend": {"orient": "none", "legendX": -38, "legendY": 336, "columns": 5, "direction": "horizontal", "title": "MMMMMMMMMMMMMMMMMMMMMMMMMMMMMMMMMMMM", "titleOrient": "bottom", "titleAnchor": "start", "titleLimit": 3000, "titleFontSize": 40, "titleColor": "#ffffff", "titleOpacity": 0, "titlePadding": 4, "strokeColor": "#a6a6a6", "padding": 3, "labelFontSize": 22, "labelFontWeight": "bold", "labelFont": "Liberation Sans", "labelColor": "#000000", "labelLimit": 400, "symbolSize": 576, "symbolStrokeWidth": 1.6, "columnPadding": 20, "rowPadding": 3, "labelOffset": 5,
    "labelExpr": "'λ=' + replace(datum.label,'T','Train')"}},
  "strokeDash": {"condition": [{"test": "indexof(datum.s,'T2')>=0", "value": [5,3]}, {"test": "indexof(datum.s,'T3')>=0", "value": [1.5,1.5]}], "value": [1,0]},
  "order": {"value": null}
 }},
{"data": {"name": "am"}, "transform": [{"filter": "datum.s == 'none'"}], "mark": {"type": "point", "filled": false},
 "encoding": {
  "x": {"field": "x", "type": "quantitative"}, "y": {"field": "y", "type": "quantitative"},
  "color": {"field": "s", "type": "nominal"},
  "shape": {"field": "s", "type": "nominal", "scale": {"domain": ["0.75_T1","16_T1","4_T2","0.75_T3","16_T3","4_T1","0.75_T2","16_T2","4_T3"],
   "range": [
    "M-1,0H-0.24M0.24,0H1M-0.22,0A0.22,0.22,0,1,1,0.22,0A0.22,0.22,0,1,1,-0.22,0Z",
    "M-1,0H-0.24M0.24,0H1M-0.2,-0.2H0.2V0.2H-0.2Z",
    "M-1,0H-0.72M-0.56,0H-0.28M0.28,0H0.56M0.72,0H1M-0.26,0L0,-0.26L0.26,0L0,0.26Z",
    "M-1,0H-0.92M-0.8,0H-0.72M-0.6,0H-0.52M-0.4,0H-0.32M0.32,0H0.4M0.52,0H0.6M0.72,0H0.8M0.92,0H1M-0.22,0A0.22,0.22,0,1,1,0.22,0A0.22,0.22,0,1,1,-0.22,0Z",
    "M-1,0H-0.92M-0.8,0H-0.72M-0.6,0H-0.52M-0.4,0H-0.32M0.32,0H0.4M0.52,0H0.6M0.72,0H0.8M0.92,0H1M-0.2,-0.2H0.2V0.2H-0.2Z",
    "M-1,0H-0.24M0.24,0H1M-0.26,0L0,-0.26L0.26,0L0,0.26Z",
    "M-1,0H-0.72M-0.56,0H-0.28M0.28,0H0.56M0.72,0H1M-0.22,0A0.22,0.22,0,1,1,0.22,0A0.22,0.22,0,1,1,-0.22,0Z",
    "M-1,0H-0.72M-0.56,0H-0.28M0.28,0H0.56M0.72,0H1M-0.2,-0.2H0.2V0.2H-0.2Z",
    "M-1,0H-0.92M-0.8,0H-0.72M-0.6,0H-0.52M-0.4,0H-0.32M0.32,0H0.4M0.52,0H0.6M0.72,0H0.8M0.92,0H1M-0.26,0L0,-0.26L0.26,0L0,0.26Z"
   ]}}
 }},
{"data": {"name": "am"}, "mark": {"type": "point", "clip": true, "filled": false, "size": 12, "strokeWidth": 1, "opacity": 1},
 "encoding": {
  "x": {"field": "x", "type": "quantitative"},
  "y": {"field": "y", "type": "quantitative"},
  "color": {"field": "s", "type": "nominal"},
  "shape": {"condition": [{"test": "indexof(datum.s,'0.75')==0", "value": "circle"}, {"test": "indexof(datum.s,'4_')==0", "value": "diamond"}], "value": "square"},
  "fill": {"condition": {"test": "indexof(datum.s,'T1')>=0", "value": "#7E2F8E"}, "value": "white"}
 }},
{"data": {"name": "aa"}, "mark": {"type": "rule", "strokeDash": [6, 4], "strokeWidth": 2, "color": "black"},
 "encoding": {"x": {"field": "x", "type": "quantitative"}, "y": {"field": "y", "type": "quantitative"}, "x2": {"field": "x2"}, "y2": {"field": "y2"}}},
{"data": {"name": "aa"}, "mark": {"type": "point", "shape": "triangle-up", "filled": true, "color": "black", "size": 30, "opacity": 1},
 "encoding": {"x": {"field": "x2", "type": "quantitative"}, "y": {"field": "y2", "type": "quantitative"}}}
]},
{"layer": [
{"data": {"values": [{}]}, "mark": {"type": "rect", "fill": "white", "stroke": "#a0a0a0", "strokeWidth": 0.8},
 "encoding": {
  "x": {"datum": 0.2682, "type": "quantitative", "scale": {"domain": [0.2682, 0.2888], "range": [18, 98], "nice": false, "zero": false},
   "axis": {"orient": "bottom", "offset": -11, "title": null, "tickCount": 100, "values": [0.27,0.275,0.28,0.285], "format": "~g", "labelFontSize": 7.5, "labelPadding": 2, "grid": false, "zindex": 1, "labelFlush": false, "labelOverlap": false}},
  "x2": {"datum": 0.2888},
  "y": {"datum": 72, "type": "quantitative", "scale": {"domain": [72, 72.4], "range": [248, 167], "nice": false, "zero": false},
   "axis": {"orient": "left", "offset": -18, "title": null, "tickCount": 100, "values": [72,72.1,72.2,72.3,72.4], "format": "~g", "labelFontSize": 7.5, "labelPadding": 2, "grid": false, "zindex": 1, "labelFlush": false, "labelOverlap": false}},
  "y2": {"datum": 72.4}
 }},
{"data": {"values": [{"v":0.27},{"v":0.275},{"v":0.28},{"v":0.285}]}, "mark": {"type": "rule", "color": "#e8e8e8", "strokeWidth": 0.8},
 "encoding": {"x": {"field": "v", "type": "quantitative"}, "y": {"datum": 72, "type": "quantitative"}, "y2": {"datum": 72.4}}},
{"data": {"values": [{"v":72.1},{"v":72.2},{"v":72.3}]}, "mark": {"type": "rule", "color": "#e8e8e8", "strokeWidth": 0.8},
 "encoding": {"y": {"field": "v", "type": "quantitative"}, "x": {"datum": 0.2682, "type": "quantitative"}, "x2": {"datum": 0.2888}}},
{"data": {"name": "ai1"}, "transform": [{"filter": "datum.s != 'best'"}], "mark": {"type": "line", "strokeWidth": 1.2},
 "encoding": {"x": {"field": "x", "type": "quantitative"}, "y": {"field": "y", "type": "quantitative"}, "color": {"field": "s", "type": "nominal"}, "strokeDash": {"condition": [{"test": "indexof(datum.s,'T2')>=0", "value": [5,3]}, {"test": "indexof(datum.s,'T3')>=0", "value": [1.5,1.5]}], "value": [1,0]}, "order": {"value": null}}},
{"data": {"name": "ai1"}, "transform": [{"filter": "datum.s != 'best'"}], "mark": {"type": "point", "filled": false, "size": 14, "strokeWidth": 1, "opacity": 1},
 "encoding": {"x": {"field": "x", "type": "quantitative"}, "y": {"field": "y", "type": "quantitative"}, "color": {"field": "s", "type": "nominal"}, "shape": {"condition": [{"test": "indexof(datum.s,'0.75')==0", "value": "circle"}, {"test": "indexof(datum.s,'4_')==0", "value": "diamond"}], "value": "square"}, "fill": {"condition": {"test": "indexof(datum.s,'T1')>=0", "value": "#7E2F8E"}, "value": "white"}}},
{"data": {"name": "ai1"}, "transform": [{"filter": "datum.s == 'best'"}], "mark": {"type": "point", "filled": true, "color": "black", "size": 14, "opacity": 1},
 "encoding": {"x": {"field": "x", "type": "quantitative"}, "y": {"field": "y", "type": "quantitative"}}},
{"data": {"values": [{}]}, "mark": {"type": "text", "text": "Zoom area of λ=0.75", "fontSize": 9.5, "fontWeight": "bold", "baseline": "bottom", "dy": -2, "font": "Liberation Sans"},
 "encoding": {"x": {"datum": 0.2785, "type": "quantitative"}, "y": {"datum": 72.4, "type": "quantitative"}}}
]},
{"layer": [
{"data": {"values": [{}]}, "mark": {"type": "rect", "fill": "white", "stroke": "#a0a0a0", "strokeWidth": 0.8},
 "encoding": {
  "x": {"datum": 0.551, "type": "quantitative", "scale": {"domain": [0.551, 0.559], "range": [123, 201], "nice": false, "zero": false},
   "axis": {"orient": "bottom", "offset": -10, "title": null, "tickCount": 100, "values": [0.552,0.556], "format": "~g", "labelFontSize": 7.5, "labelPadding": 2, "grid": false, "zindex": 1, "labelFlush": false, "labelOverlap": false}},
  "x2": {"datum": 0.559},
  "y": {"datum": 74.08, "type": "quantitative", "scale": {"domain": [74.08, 74.44], "range": [249, 171], "nice": false, "zero": false},
   "axis": {"orient": "left", "offset": -123, "title": null, "tickCount": 100, "values": [74.1,74.2,74.3,74.4], "format": "~g", "labelFontSize": 7.5, "labelPadding": 2, "grid": false, "zindex": 1, "labelFlush": false, "labelOverlap": false}},
  "y2": {"datum": 74.44}
 }},
{"data": {"values": [{"v":0.552},{"v":0.553},{"v":0.554},{"v":0.555},{"v":0.556},{"v":0.557},{"v":0.558}]}, "mark": {"type": "rule", "color": "#e8e8e8", "strokeWidth": 0.8},
 "encoding": {"x": {"field": "v", "type": "quantitative"}, "y": {"datum": 74.08, "type": "quantitative"}, "y2": {"datum": 74.44}}},
{"data": {"values": [{"v":74.1},{"v":74.2},{"v":74.3},{"v":74.4}]}, "mark": {"type": "rule", "color": "#e8e8e8", "strokeWidth": 0.8},
 "encoding": {"y": {"field": "v", "type": "quantitative"}, "x": {"datum": 0.551, "type": "quantitative"}, "x2": {"datum": 0.559}}},
{"data": {"name": "ai2"}, "transform": [{"filter": "datum.s != 'best'"}], "mark": {"type": "line", "strokeWidth": 1.2},
 "encoding": {"x": {"field": "x", "type": "quantitative"}, "y": {"field": "y", "type": "quantitative"}, "color": {"field": "s", "type": "nominal"}, "strokeDash": {"condition": [{"test": "indexof(datum.s,'T2')>=0", "value": [5,3]}, {"test": "indexof(datum.s,'T3')>=0", "value": [1.5,1.5]}], "value": [1,0]}, "order": {"value": null}}},
{"data": {"name": "ai2"}, "transform": [{"filter": "datum.s != 'best'"}], "mark": {"type": "point", "filled": false, "size": 14, "strokeWidth": 1, "opacity": 1},
 "encoding": {"x": {"field": "x", "type": "quantitative"}, "y": {"field": "y", "type": "quantitative"}, "color": {"field": "s", "type": "nominal"}, "shape": {"condition": [{"test": "indexof(datum.s,'0.75')==0", "value": "circle"}, {"test": "indexof(datum.s,'4_')==0", "value": "diamond"}], "value": "square"}, "fill": {"condition": {"test": "indexof(datum.s,'T1')>=0", "value": "#7E2F8E"}, "value": "white"}}},
{"data": {"name": "ai2"}, "transform": [{"filter": "datum.s == 'best'"}], "mark": {"type": "point", "filled": true, "color": "black", "size": 14, "opacity": 1},
 "encoding": {"x": {"field": "x", "type": "quantitative"}, "y": {"field": "y", "type": "quantitative"}}},
{"data": {"values": [{}]}, "mark": {"type": "text", "text": "Zoom area of λ=4", "fontSize": 9.5, "fontWeight": "bold", "baseline": "bottom", "dy": -2, "font": "Liberation Sans"},
 "encoding": {"x": {"datum": 0.555, "type": "quantitative"}, "y": {"datum": 74.44, "type": "quantitative"}}}
]}
],
"resolve": {"scale": {"x": "independent", "y": "independent"}, "axis": {"x": "independent", "y": "independent"}}
},
{
"width": 245, "height": 259,
"title": {"text": "(b) Romanoillamp", "orient": "bottom", "anchor": "middle", "font": "Liberation Serif", "fontSize": 17, "fontWeight": "normal", "fontStyle": "italic", "color": "#222", "offset": 3},
"layer": [
{"layer": [
{"data": {"name": "bm"}, "mark": {"type": "line", "clip": true, "strokeWidth": 1.2},
 "encoding": {
  "x": {"field": "x", "type": "quantitative", "scale": {"type": "log", "domain": [0.51, 1.76], "nice": false},
   "axis": {"title": "BPP", "tickCount": 100, "values": [0.52,0.54,0.56,0.58,0.6,0.65,0.7,0.75,0.8,0.85,0.9,0.95,1,1.1,1.2,1.3,1.4,1.5,1.6,1.7], "labelExpr": "abs(datum.value*5-round(datum.value*5))<1e-6 ? format(datum.value,'~g') : ''", "gridColor": {"condition": {"test": "abs(datum.value*5-round(datum.value*5))<1e-6", "value": "#dcdcdc"}, "value": "#f1f1f1"}, "labelOverlap": false, "labelFlush": false, "labelPadding": 3, "titlePadding": 3}},
  "y": {"field": "y", "type": "quantitative", "scale": {"domain": [56, 68], "nice": false, "zero": false},
   "axis": {"title": "MSE_PSNR_D1", "tickCount": 100, "format": "~g", "values": [56,58,60,62,64,66,68], "gridColor": "#dcdcdc", "labelPadding": 3, "titlePadding": 2, "labelOverlap": false}},
  "color": {"field": "s", "type": "nominal"},
  "strokeDash": {"condition": [{"test": "indexof(datum.s,'T2')>=0", "value": [5,3]}, {"test": "indexof(datum.s,'T3')>=0", "value": [1.5,1.5]}], "value": [1,0]},
  "order": {"value": null}
 }},
{"data": {"name": "bm"}, "mark": {"type": "point", "clip": true, "filled": false, "size": 12, "strokeWidth": 1, "opacity": 1},
 "encoding": {
  "x": {"field": "x", "type": "quantitative"}, "y": {"field": "y", "type": "quantitative"},
  "color": {"field": "s", "type": "nominal"},
  "shape": {"condition": [{"test": "indexof(datum.s,'0.75')==0", "value": "circle"}, {"test": "indexof(datum.s,'4_')==0", "value": "diamond"}], "value": "square"},
  "fill": {"condition": {"test": "indexof(datum.s,'T1')>=0", "value": "#7E2F8E"}, "value": "white"}
 }},
{"data": {"name": "ba"}, "mark": {"type": "rule", "strokeDash": [6, 4], "strokeWidth": 2, "color": "black"},
 "encoding": {"x": {"field": "x", "type": "quantitative"}, "y": {"field": "y", "type": "quantitative"}, "x2": {"field": "x2"}, "y2": {"field": "y2"}}},
{"data": {"name": "ba"}, "mark": {"type": "point", "shape": "triangle-up", "filled": true, "color": "black", "size": 30, "opacity": 1},
 "encoding": {"x": {"field": "x2", "type": "quantitative"}, "y": {"field": "y2", "type": "quantitative"}}}
]},
{"layer": [
{"data": {"values": [{}]}, "mark": {"type": "rect", "fill": "white", "stroke": "#a0a0a0", "strokeWidth": 0.8},
 "encoding": {
  "x": {"datum": 0.509, "type": "quantitative", "scale": {"domain": [0.509, 0.592], "range": [22, 102], "nice": false, "zero": false},
   "axis": {"orient": "bottom", "offset": -12, "title": null, "tickCount": 100, "values": [0.52,0.54,0.56,0.58], "format": "~g", "labelFontSize": 7.5, "labelPadding": 2, "grid": false, "zindex": 1, "labelFlush": false, "labelOverlap": false}},
  "x2": {"datum": 0.592},
  "y": {"datum": 64.42, "type": "quantitative", "scale": {"domain": [64.42, 66.0], "range": [247, 166], "nice": false, "zero": false},
   "axis": {"orient": "left", "offset": -22, "title": null, "tickCount": 100, "values": [64.5,65,65.5,66], "format": "~g", "labelFontSize": 7.5, "labelPadding": 2, "grid": false, "zindex": 1, "labelFlush": false, "labelOverlap": false}},
  "y2": {"datum": 66.0}
 }},
{"data": {"values": [{"v":0.52},{"v":0.53},{"v":0.54},{"v":0.55},{"v":0.56},{"v":0.57},{"v":0.58},{"v":0.59}]}, "mark": {"type": "rule", "color": "#e8e8e8", "strokeWidth": 0.8},
 "encoding": {"x": {"field": "v", "type": "quantitative"}, "y": {"datum": 64.42, "type": "quantitative"}, "y2": {"datum": 66.0}}},
{"data": {"values": [{"v":64.5},{"v":65},{"v":65.5}]}, "mark": {"type": "rule", "color": "#e8e8e8", "strokeWidth": 0.8},
 "encoding": {"y": {"field": "v", "type": "quantitative"}, "x": {"datum": 0.509, "type": "quantitative"}, "x2": {"datum": 0.592}}},
{"data": {"name": "bi1"}, "transform": [{"filter": "datum.s != 'best'"}], "mark": {"type": "line", "strokeWidth": 1.2},
 "encoding": {"x": {"field": "x", "type": "quantitative"}, "y": {"field": "y", "type": "quantitative"}, "color": {"field": "s", "type": "nominal"}, "strokeDash": {"condition": [{"test": "indexof(datum.s,'T2')>=0", "value": [5,3]}, {"test": "indexof(datum.s,'T3')>=0", "value": [1.5,1.5]}], "value": [1,0]}, "order": {"value": null}}},
{"data": {"name": "bi1"}, "transform": [{"filter": "datum.s != 'best'"}], "mark": {"type": "point", "filled": false, "size": 14, "strokeWidth": 1, "opacity": 1},
 "encoding": {"x": {"field": "x", "type": "quantitative"}, "y": {"field": "y", "type": "quantitative"}, "color": {"field": "s", "type": "nominal"}, "shape": {"condition": [{"test": "indexof(datum.s,'0.75')==0", "value": "circle"}, {"test": "indexof(datum.s,'4_')==0", "value": "diamond"}], "value": "square"}, "fill": {"condition": {"test": "indexof(datum.s,'T1')>=0", "value": "#7E2F8E"}, "value": "white"}}},
{"data": {"name": "bi1"}, "transform": [{"filter": "datum.s == 'best'"}], "mark": {"type": "point", "filled": true, "color": "black", "size": 14, "opacity": 1},
 "encoding": {"x": {"field": "x", "type": "quantitative"}, "y": {"field": "y", "type": "quantitative"}}},
{"data": {"values": [{}]}, "mark": {"type": "text", "text": "Zoom area of λ=0.75", "fontSize": 9.5, "fontWeight": "bold", "baseline": "bottom", "dy": -2, "font": "Liberation Sans"},
 "encoding": {"x": {"datum": 0.5505, "type": "quantitative"}, "y": {"datum": 66.0, "type": "quantitative"}}}
]},
{"layer": [
{"data": {"values": [{}]}, "mark": {"type": "rect", "fill": "white", "stroke": "#a0a0a0", "strokeWidth": 0.8},
 "encoding": {
  "x": {"datum": 0.973, "type": "quantitative", "scale": {"domain": [0.973, 1.0566], "range": [110, 199], "nice": false, "zero": false},
   "axis": {"orient": "bottom", "offset": -12, "title": null, "tickCount": 100, "values": [1,1.05], "format": "~g", "labelFontSize": 7.5, "labelPadding": 2, "grid": false, "zindex": 1, "labelFlush": false, "labelOverlap": false}},
  "x2": {"datum": 1.0566},
  "y": {"datum": 63.95, "type": "quantitative", "scale": {"domain": [63.95, 67.0], "range": [247, 168], "nice": false, "zero": false},
   "axis": {"orient": "left", "offset": -110, "title": null, "tickCount": 100, "values": [64,65,66,67], "format": "~g", "labelFontSize": 7.5, "labelPadding": 2, "grid": false, "zindex": 1, "labelFlush": false, "labelOverlap": false}},
  "y2": {"datum": 67.0}
 }},
{"data": {"values": [{"v":0.98},{"v":0.99},{"v":1.0},{"v":1.01},{"v":1.02},{"v":1.03},{"v":1.04},{"v":1.05}]}, "mark": {"type": "rule", "color": "#e8e8e8", "strokeWidth": 0.8},
 "encoding": {"x": {"field": "v", "type": "quantitative"}, "y": {"datum": 63.95, "type": "quantitative"}, "y2": {"datum": 67.0}}},
{"data": {"values": [{"v":64},{"v":65},{"v":66}]}, "mark": {"type": "rule", "color": "#e8e8e8", "strokeWidth": 0.8},
 "encoding": {"y": {"field": "v", "type": "quantitative"}, "x": {"datum": 0.973, "type": "quantitative"}, "x2": {"datum": 1.0566}}},
{"data": {"name": "bi2"}, "transform": [{"filter": "datum.s != 'best'"}], "mark": {"type": "line", "strokeWidth": 1.2},
 "encoding": {"x": {"field": "x", "type": "quantitative"}, "y": {"field": "y", "type": "quantitative"}, "color": {"field": "s", "type": "nominal"}, "strokeDash": {"condition": [{"test": "indexof(datum.s,'T2')>=0", "value": [5,3]}, {"test": "indexof(datum.s,'T3')>=0", "value": [1.5,1.5]}], "value": [1,0]}, "order": {"value": null}}},
{"data": {"name": "bi2"}, "transform": [{"filter": "datum.s != 'best'"}], "mark": {"type": "point", "filled": false, "size": 14, "strokeWidth": 1, "opacity": 1},
 "encoding": {"x": {"field": "x", "type": "quantitative"}, "y": {"field": "y", "type": "quantitative"}, "color": {"field": "s", "type": "nominal"}, "shape": {"condition": [{"test": "indexof(datum.s,'0.75')==0", "value": "circle"}, {"test": "indexof(datum.s,'4_')==0", "value": "diamond"}], "value": "square"}, "fill": {"condition": {"test": "indexof(datum.s,'T1')>=0", "value": "#7E2F8E"}, "value": "white"}}},
{"data": {"name": "bi2"}, "transform": [{"filter": "datum.s == 'best'"}], "mark": {"type": "point", "filled": true, "color": "black", "size": 14, "opacity": 1},
 "encoding": {"x": {"field": "x", "type": "quantitative"}, "y": {"field": "y", "type": "quantitative"}}},
{"data": {"values": [{}]}, "mark": {"type": "text", "text": "Zoom area of λ=4", "fontSize": 9.5, "fontWeight": "bold", "baseline": "bottom", "dy": -2, "font": "Liberation Sans"},
 "encoding": {"x": {"datum": 1.0148, "type": "quantitative"}, "y": {"datum": 67.0, "type": "quantitative"}}}
]}
],
"resolve": {"scale": {"x": "independent", "y": "independent"}, "axis": {"x": "independent", "y": "independent"}}
},
{
"width": 248, "height": 259,
"title": {"text": "(c) Citiusp", "orient": "bottom", "anchor": "middle", "font": "Liberation Serif", "fontSize": 17, "fontWeight": "normal", "fontStyle": "italic", "color": "#222", "offset": 3},
"layer": [
{"layer": [
{"data": {"name": "cm"}, "mark": {"type": "line", "clip": true, "strokeWidth": 1.2},
 "encoding": {
  "x": {"field": "x", "type": "quantitative", "scale": {"type": "log", "domain": [0.32, 1.09], "nice": false},
   "axis": {"title": "BPP", "tickCount": 100, "values": [0.32,0.34,0.36,0.38,0.4,0.42,0.44,0.46,0.48,0.5,0.55,0.6,0.65,0.7,0.75,0.8,0.85,0.9,0.95,1,1.05], "labelExpr": "abs(datum.value*10-round(datum.value*10))<1e-6 ? format(datum.value,'~g') : ''", "gridColor": {"condition": {"test": "abs(datum.value*10-round(datum.value*10))<1e-6", "value": "#dcdcdc"}, "value": "#f1f1f1"}, "labelOverlap": false, "labelFlush": false, "labelPadding": 3, "titlePadding": 3}},
  "y": {"field": "y", "type": "quantitative", "scale": {"domain": [56, 70], "nice": false, "zero": false},
   "axis": {"title": "MSE_PSNR_D1", "tickCount": 100, "format": "~g", "values": [56,58,60,62,64,66,68,70], "gridColor": "#dcdcdc", "labelPadding": 3, "titlePadding": 2, "labelOverlap": false}},
  "color": {"field": "s", "type": "nominal"},
  "strokeDash": {"condition": [{"test": "indexof(datum.s,'T2')>=0", "value": [5,3]}, {"test": "indexof(datum.s,'T3')>=0", "value": [1.5,1.5]}], "value": [1,0]},
  "order": {"value": null}
 }},
{"data": {"name": "cm"}, "mark": {"type": "point", "clip": true, "filled": false, "size": 12, "strokeWidth": 1, "opacity": 1},
 "encoding": {
  "x": {"field": "x", "type": "quantitative"}, "y": {"field": "y", "type": "quantitative"},
  "color": {"field": "s", "type": "nominal"},
  "shape": {"condition": [{"test": "indexof(datum.s,'0.75')==0", "value": "circle"}, {"test": "indexof(datum.s,'4_')==0", "value": "diamond"}], "value": "square"},
  "fill": {"condition": {"test": "indexof(datum.s,'T1')>=0", "value": "#7E2F8E"}, "value": "white"}
 }},
{"data": {"name": "ca"}, "mark": {"type": "rule", "strokeDash": [6, 4], "strokeWidth": 2, "color": "black"},
 "encoding": {"x": {"field": "x", "type": "quantitative"}, "y": {"field": "y", "type": "quantitative"}, "x2": {"field": "x2"}, "y2": {"field": "y2"}}},
{"data": {"name": "ca"}, "mark": {"type": "point", "shape": "triangle-up", "filled": true, "color": "black", "size": 30, "opacity": 1},
 "encoding": {"x": {"field": "x2", "type": "quantitative"}, "y": {"field": "y2", "type": "quantitative"}}}
]},
{"layer": [
{"data": {"values": [{}]}, "mark": {"type": "rect", "fill": "white", "stroke": "#a0a0a0", "strokeWidth": 0.8},
 "encoding": {
  "x": {"datum": 0.3298, "type": "quantitative", "scale": {"domain": [0.3298, 0.3502], "range": [25, 105], "nice": false, "zero": false},
   "axis": {"orient": "bottom", "offset": -27, "title": null, "tickCount": 100, "values": [0.33,0.34,0.35], "format": "~g", "labelFontSize": 7.5, "labelPadding": 2, "grid": false, "zindex": 1, "labelFlush": false, "labelOverlap": false}},
  "x2": {"datum": 0.3502},
  "y": {"datum": 67.155, "type": "quantitative", "scale": {"domain": [67.155, 67.61], "range": [232, 150], "nice": false, "zero": false},
   "axis": {"orient": "left", "offset": -25, "title": null, "tickCount": 100, "values": [67.2,67.3,67.4,67.5,67.6], "format": "~g", "labelFontSize": 7.5, "labelPadding": 2, "grid": false, "zindex": 1, "labelFlush": false, "labelOverlap": false}},
  "y2": {"datum": 67.61}
 }},
{"data": {"values": [{"v":0.3325},{"v":0.335},{"v":0.3375},{"v":0.34},{"v":0.3425},{"v":0.345},{"v":0.3475}]}, "mark": {"type": "rule", "color": "#e8e8e8", "strokeWidth": 0.8},
 "encoding": {"x": {"field": "v", "type": "quantitative"}, "y": {"datum": 67.155, "type": "quantitative"}, "y2": {"datum": 67.61}}},
{"data": {"values": [{"v":67.2},{"v":67.3},{"v":67.4},{"v":67.5}]}, "mark": {"type": "rule", "color": "#e8e8e8", "strokeWidth": 0.8},
 "encoding": {"y": {"field": "v", "type": "quantitative"}, "x": {"datum": 0.3298, "type": "quantitative"}, "x2": {"datum": 0.3502}}},
{"data": {"name": "ci1"}, "transform": [{"filter": "datum.s != 'best'"}], "mark": {"type": "line", "strokeWidth": 1.2},
 "encoding": {"x": {"field": "x", "type": "quantitative"}, "y": {"field": "y", "type": "quantitative"}, "color": {"field": "s", "type": "nominal"}, "strokeDash": {"condition": [{"test": "indexof(datum.s,'T2')>=0", "value": [5,3]}, {"test": "indexof(datum.s,'T3')>=0", "value": [1.5,1.5]}], "value": [1,0]}, "order": {"value": null}}},
{"data": {"name": "ci1"}, "transform": [{"filter": "datum.s != 'best'"}], "mark": {"type": "point", "filled": false, "size": 14, "strokeWidth": 1, "opacity": 1},
 "encoding": {"x": {"field": "x", "type": "quantitative"}, "y": {"field": "y", "type": "quantitative"}, "color": {"field": "s", "type": "nominal"}, "shape": {"condition": [{"test": "indexof(datum.s,'0.75')==0", "value": "circle"}, {"test": "indexof(datum.s,'4_')==0", "value": "diamond"}], "value": "square"}, "fill": {"condition": {"test": "indexof(datum.s,'T1')>=0", "value": "#7E2F8E"}, "value": "white"}}},
{"data": {"name": "ci1"}, "transform": [{"filter": "datum.s == 'best'"}], "mark": {"type": "point", "filled": true, "color": "black", "size": 14, "opacity": 1},
 "encoding": {"x": {"field": "x", "type": "quantitative"}, "y": {"field": "y", "type": "quantitative"}}},
{"data": {"values": [{}]}, "mark": {"type": "text", "text": "Zoom area of λ=0.75", "fontSize": 9.5, "fontWeight": "bold", "baseline": "bottom", "dy": -2, "font": "Liberation Sans"},
 "encoding": {"x": {"datum": 0.34, "type": "quantitative"}, "y": {"datum": 67.61, "type": "quantitative"}}}
]},
{"layer": [
{"data": {"values": [{}]}, "mark": {"type": "rect", "fill": "white", "stroke": "#a0a0a0", "strokeWidth": 0.8},
 "encoding": {
  "x": {"datum": 0.6141, "type": "quantitative", "scale": {"domain": [0.6141, 0.6255], "range": [130, 212], "nice": false, "zero": false},
   "axis": {"orient": "bottom", "offset": -29, "title": null, "tickCount": 100, "values": [0.615,0.62,0.625], "format": "~g", "labelFontSize": 7.5, "labelPadding": 2, "grid": false, "zindex": 1, "labelFlush": false, "labelOverlap": false}},
  "x2": {"datum": 0.6255},
  "y": {"datum": 67.587, "type": "quantitative", "scale": {"domain": [67.587, 68.213], "range": [230, 150], "nice": false, "zero": false},
   "axis": {"orient": "left", "offset": -130, "title": null, "tickCount": 100, "values": [67.6,67.8,68,68.2], "format": "~g", "labelFontSize": 7.5, "labelPadding": 2, "grid": false, "zindex": 1, "labelFlush": false, "labelOverlap": false}},
  "y2": {"datum": 68.213}
 }},
{"data": {"values": [{"v":0.615},{"v":0.6175},{"v":0.62},{"v":0.6225},{"v":0.625}]}, "mark": {"type": "rule", "color": "#e8e8e8", "strokeWidth": 0.8},
 "encoding": {"x": {"field": "v", "type": "quantitative"}, "y": {"datum": 67.587, "type": "quantitative"}, "y2": {"datum": 68.213}}},
{"data": {"values": [{"v":67.6},{"v":67.8},{"v":68},{"v":68.2}]}, "mark": {"type": "rule", "color": "#e8e8e8", "strokeWidth": 0.8},
 "encoding": {"y": {"field": "v", "type": "quantitative"}, "x": {"datum": 0.6141, "type": "quantitative"}, "x2": {"datum": 0.6255}}},
{"data": {"name": "ci2"}, "transform": [{"filter": "datum.s != 'best'"}], "mark": {"type": "line", "strokeWidth": 1.2},
 "encoding": {"x": {"field": "x", "type": "quantitative"}, "y": {"field": "y", "type": "quantitative"}, "color": {"field": "s", "type": "nominal"}, "strokeDash": {"condition": [{"test": "indexof(datum.s,'T2')>=0", "value": [5,3]}, {"test": "indexof(datum.s,'T3')>=0", "value": [1.5,1.5]}], "value": [1,0]}, "order": {"value": null}}},
{"data": {"name": "ci2"}, "transform": [{"filter": "datum.s != 'best'"}], "mark": {"type": "point", "filled": false, "size": 14, "strokeWidth": 1, "opacity": 1},
 "encoding": {"x": {"field": "x", "type": "quantitative"}, "y": {"field": "y", "type": "quantitative"}, "color": {"field": "s", "type": "nominal"}, "shape": {"condition": [{"test": "indexof(datum.s,'0.75')==0", "value": "circle"}, {"test": "indexof(datum.s,'4_')==0", "value": "diamond"}], "value": "square"}, "fill": {"condition": {"test": "indexof(datum.s,'T1')>=0", "value": "#7E2F8E"}, "value": "white"}}},
{"data": {"name": "ci2"}, "transform": [{"filter": "datum.s == 'best'"}], "mark": {"type": "point", "filled": true, "color": "black", "size": 14, "opacity": 1},
 "encoding": {"x": {"field": "x", "type": "quantitative"}, "y": {"field": "y", "type": "quantitative"}}},
{"data": {"values": [{}]}, "mark": {"type": "text", "text": "Zoom area of λ=4", "fontSize": 9.5, "fontWeight": "bold", "baseline": "bottom", "dy": -2, "font": "Liberation Sans"},
 "encoding": {"x": {"datum": 0.6198, "type": "quantitative"}, "y": {"datum": 68.213, "type": "quantitative"}}}
]}
],
"resolve": {"scale": {"x": "independent", "y": "independent"}, "axis": {"x": "independent", "y": "independent"}}
}
],
"config": {
 "font": "Liberation Sans",
 "view": {"stroke": "#9a9a9a", "strokeWidth": 1},
 "axis": {"labelFont": "Liberation Sans", "labelFontWeight": "bold", "labelFontSize": 12, "labelColor": "#262626", "titleFont": "Liberation Sans", "titleFontWeight": "bold", "titleFontSize": 12, "titleColor": "#262626", "domain": false, "ticks": false, "grid": true}
}
}
